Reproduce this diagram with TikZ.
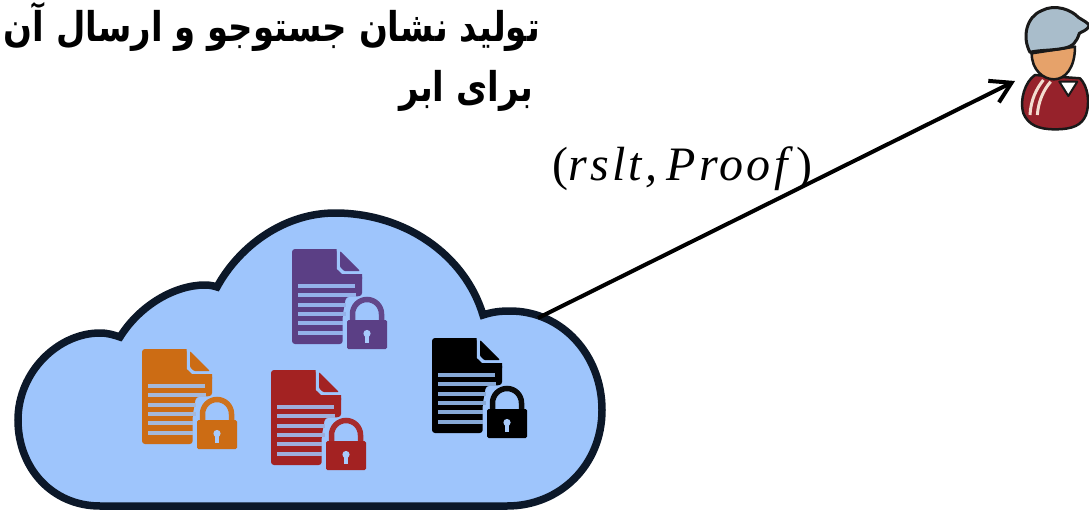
\documentclass[tikz,border=0pt]{standalone}
\usepackage{fontspec}
\usetikzlibrary{arrows.meta}
\TeXXeTstate=1
\newfontfamily\arabicfont[Script=Arabic]{DejaVu Sans}
\newfontfamily\labelfont[LetterSpace=7]{Liberation Serif}
\definecolor{cloudfill}{HTML}{9EC5FC}
\definecolor{cloudedge}{HTML}{0C1829}
\definecolor{docpurple}{HTML}{5B3F85}
\definecolor{docred}{HTML}{A32222}
\definecolor{docorange}{HTML}{CC6C14}
\definecolor{docblack}{HTML}{000000}
\definecolor{capblue}{HTML}{A9BDCB}
\definecolor{skin}{HTML}{E6A26A}
\definecolor{shirt}{HTML}{96222B}
\definecolor{stripe}{HTML}{F3DDD0}
\tikzset{
  titletext/.style={font=\arabicfont\bfseries\fontsize{41}{48}\selectfont,anchor=base east,inner sep=0pt,text=black,xscale=.827,transform shape},
  mathlabel/.style={font=\labelfont\fontsize{48}{50}\selectfont,anchor=base west,inner sep=0pt},
  cloudshape/.style={fill=cloudfill,draw=cloudedge,line width=7.5pt,line join=miter},
  link/.style={draw=black,line width=4pt,-{Straight Barb[length=20pt,width=24pt,line width=4pt]}},
  figline/.style={line width=2pt,draw=black!90,line join=round},
}
\newcommand\docicon[3]{%
  \begin{scope}[shift={(#1,#2)}]
    \colorlet{iconlight}{cloudfill!85!#3}
    \fill[#3,rounded corners=3pt] (0,0) -- (44.7,0) -- (44.7,25) -- (70,25) -- (70,47) -- (54,48) -- (50.7,66) -- (50.7,95) -- (0,95) -- cycle;
    \fill[#3] (44.7,0) -- (44.7,20) -- (50,25) -- (70,25) -- (70,30) -- (40,30) -- (40,0) -- cycle;
    \fill[#3,rounded corners=1pt] (48,2) -- (68,22) -- (52,22) -- (48,18) -- cycle;
    \foreach \yy/\xx in {37/63,46/64,56/54,65/54,74/51,84/51}
      \fill[iconlight] (6,\yy-1.7) rectangle (\xx,\yy+1.7);
    \draw[cloudfill,line width=9pt] (60.5,71) -- (60.5,65) arc[start angle=180,end angle=360,radius=14.5] -- (89.5,71);
    \fill[cloudfill] (53,69) rectangle (97,102);
    \draw[#3!96!white,line width=5.5pt] (60.5,72) -- (60.5,65) arc[start angle=180,end angle=360,radius=14.5] -- (89.5,72);
    \fill[#3,rounded corners=1.5pt] (55,71) rectangle (95,100);
    \fill[cloudfill!90!white] (75,84.5) circle[radius=3.6];
    \fill[cloudfill!90!white] (73.3,84.5) rectangle (76.7,94);
  \end{scope}}
\begin{document}
\begin{tikzpicture}[x=1pt,y=-1pt]
  \useasboundingbox (0,0) rectangle (1089,514);

  % cloud
  \path[cloudshape] (100,506)
    .. controls (52,506) and (18,468) .. (18,420)
    .. controls (18,372) and (58,333) .. (100,333)
    .. controls (108,333) and (114,335) .. (120,337)
    .. controls (140,305) and (175,285) .. (205,285)
    .. controls (210,285) and (214,286) .. (217,287)
    .. controls (240,245) and (285,213) .. (335,213)
    .. controls (405,213) and (465,255) .. (483,315)
    .. controls (492,312) and (500,311) .. (510,311)
    .. controls (562,311) and (602,355) .. (602,410)
    .. controls (602,465) and (560,506) .. (507,506)
    -- cycle;

  \docicon{292}{249}{docpurple}
  \docicon{432}{338}{docblack}
  \docicon{271}{370}{docred}
  \docicon{142}{349}{docorange}

  % title
  \node[titletext] (title1) at (540,41) {\beginR تولید نشان جستوجو و ارسال آن\endR};
  \node[titletext] (title2) at (533,101) {\beginR برای ابر\endR};

  % label
  \node[mathlabel] (result) at (552,180) {(\textit{rslt,\kern9pt Proof})};

  % user
  \begin{scope}[shift={(980,0)},x=0.3333pt,y=-0.3333pt]
    \path[figline,line width=2.5pt,fill=shirt] (130,340) .. controls (118,300) and (135,245) .. (165,225)
       -- (300,235) .. controls (325,260) and (330,310) .. (318,345)
       .. controls (305,375) and (280,388) .. (225,388) .. controls (175,388) and (145,375) .. (130,340) -- cycle;
    \draw[line width=3pt,draw=stripe] (150,345) .. controls (152,300) and (170,265) .. (190,240);
    \draw[line width=3pt,draw=stripe] (172,345) .. controls (175,305) and (190,270) .. (212,245);
    \path[figline,fill=white] (238,245) -- (292,245) -- (265,288) -- cycle;
    \path[figline,line width=2.5pt,fill=skin] (155,160) .. controls (155,210) and (190,238) .. (222,238) .. controls (255,238) and (285,205) .. (285,140) -- cycle;
    \path[figline,line width=3pt,fill=capblue] (150,157) .. controls (125,110) and (140,50) .. (185,32)
      .. controls (225,10) and (275,30) .. (295,52) .. controls (310,62) and (325,68) .. (328,78)
      .. controls (320,92) and (305,95) .. (298,100) .. controls (290,125) and (280,140) .. (250,145)
      .. controls (215,152) and (175,150) .. (150,157) -- cycle;
  \end{scope}

  % connector
  \coordinate (cloudport) at (538,318);
  \coordinate (userport) at (1015,81);
  \draw[link] (cloudport) -- (userport);
\end{tikzpicture}
\end{document}
